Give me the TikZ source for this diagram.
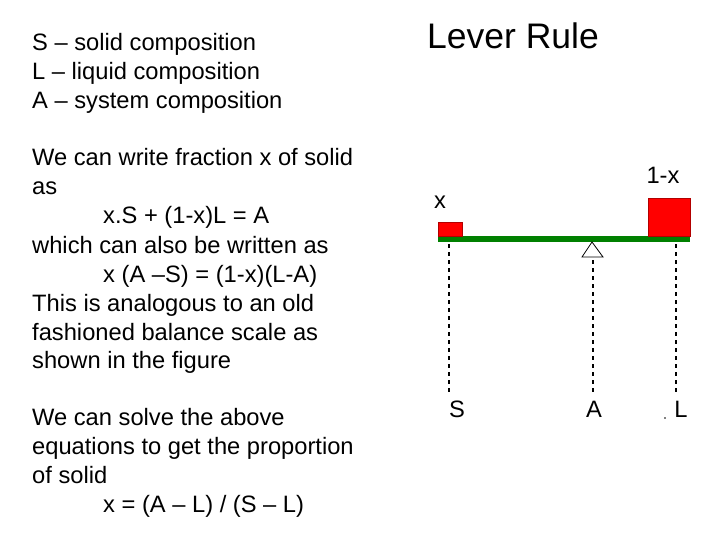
\documentclass[tikz,border=0pt]{standalone}
\usepackage{fontspec}
\setmainfont{Liberation Sans}
\begin{document}
\begin{tikzpicture}[x=1pt,y=-1pt,
  txt/.style={anchor=base west,inner sep=0pt,font=\fontsize{23.7}{28}\selectfont},
  lbl/.style={anchor=base,inner sep=0pt,font=\fontsize{23.7}{28}\selectfont},
  weight/.style={fill=red,draw=red!70!black,line width=0.6pt},
  guide/.style={line width=1.3pt,dash pattern=on 4pt off 4pt}]
\useasboundingbox (0,0) rectangle (720,540);
\fill[white] (0,0) rectangle (720,540);
\foreach \t [count=\i] in {S -- solid composition,L -- liquid composition,A -- system composition}
  \node[txt] (h\i) at (32,{51+29*(\i-1)}) {\t};
\node[txt] (p1) at (32,166) {We can write fraction x of solid};
\node[txt] (p2) at (32,195) {as};
\node[txt] (p3) at (103,224) {x.S + (1-x)L = A};
\node[txt] (p4) at (32,253) {which can also be written as};
\node[txt] (p5) at (103,282) {x (A --S) = (1-x)(L-A)};
\node[txt] (p6) at (32,311) {This is analogous to an old};
\node[txt] (p7) at (32,340) {fashioned balance scale as};
\node[txt] (p8) at (32,368) {shown in the figure};
\node[txt] (q1) at (32,425) {We can solve the above};
\node[txt] (q2) at (32,454) {equations to get the proportion};
\node[txt] (q3) at (32,483) {of solid};
\node[txt] (q4) at (103,512) {x = (A -- L) / (S -- L)};
\node[anchor=base,inner sep=0pt,font=\fontsize{35.5}{40}\selectfont] (title) at (513,49) {Lever Rule};
% beam
\fill[green!50!black] (438,236) rectangle (690,242);
\draw[weight] (438,222) rectangle (462,236);
\draw[weight] (648,198) rectangle (690,236);
\draw[fill=white,line width=0.8pt] (592,242) -- (582,257) -- (603,257) -- cycle;
\coordinate (s0) at (449,244); \coordinate (s1) at (449,392);
\coordinate (a0) at (593,260); \coordinate (a1) at (593,392);
\coordinate (l0) at (676,244); \coordinate (l1) at (676,392);
\draw[guide] (s0) -- (s1);
\draw[guide] (a0) -- (a1);
\draw[guide] (l0) -- (l1);
\node[lbl] (S) at (457,417) {S};
\node[lbl] (A) at (594,417) {A};
\node[lbl] (L) at (681,417) {L};
\fill (665,418) circle (0.9);
\node[lbl] (x) at (440,208) {x};
\node[lbl] (omx) at (663,184) {1-x};
\end{tikzpicture}
\end{document}
